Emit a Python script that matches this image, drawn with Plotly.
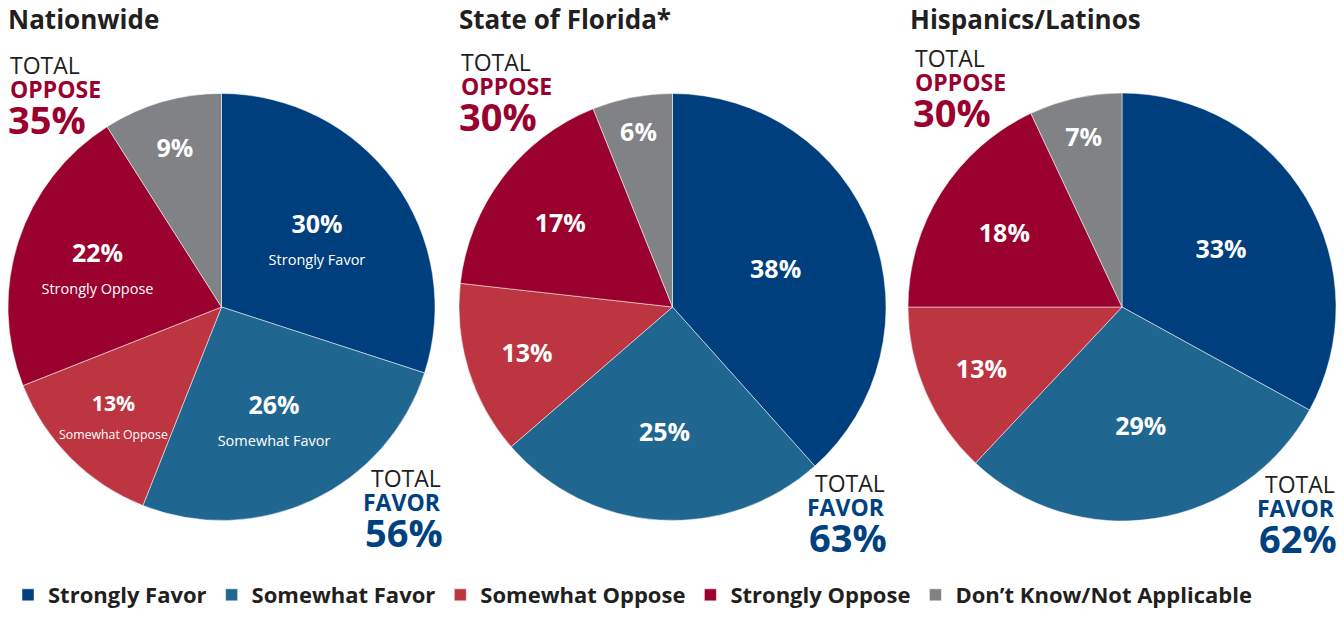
import plotly.graph_objects as go

categories = ["Strongly Favor", "Somewhat Favor", "Somewhat Oppose", "Strongly Oppose", "Don’t Know/Not Applicable"]
groups = ["Nationwide", "State of Florida*", "Hispanics/Latinos"]
nationwide = [30, 26, 13, 22, 9]
florida = [38, 25, 13, 17, 6]
hispanics = [33, 29, 13, 18, 7]
total_oppose = [35, 30, 30]
total_favor = [56, 63, 62]

colors = ["#003F7E", "#1F6791", "#BC3540", "#9B012F", "#808285"]
dark = "#231F20"
red = "#9B012F"
blue = "#00417F"
font = "Open Sans"

# inside subtitles only on the first pie
sub = ["Strongly Favor", "Somewhat Favor", "Somewhat Oppose", "Strongly Oppose", ""]

# page body has an 8px margin, so work in window pixels and shift
OFF = 8
W, H = 1328, 602


def px(x):
    return (x - OFF) / W


def py(y):
    return 1 - (y - OFF) / H


domains = [(8, 435), (459, 886), (908, 1336)]
top, bottom = 93, 521

fig = go.Figure()
for i, (vals, name) in enumerate(zip([nationwide, florida, hispanics], groups)):
    if i == 0:
        texts = [f"<b>{v}%</b>" + (f"<br><span style='font-size:14.5px'>{s}</span>" if s else "")
                 for v, s in zip(vals, sub)]
    else:
        texts = [f"<b>{v}%</b>" for v in vals]
    x0, x1 = domains[i]
    fig.add_trace(go.Pie(
        labels=categories, values=vals, text=texts,
        textinfo="text", textposition="inside", insidetextorientation="horizontal",
        textfont=dict(family=font, size=25, color="white"),
        marker=dict(colors=colors, line=dict(color="white", width=0.5)),
        sort=False, direction="clockwise", rotation=0,
        domain=dict(x=[max(px(x0), 0), min(px(x1), 1)], y=[py(bottom), py(top)]),
        showlegend=(i == 0), hoverinfo="label+percent",
    ))

    # title
    tx = [8, 459, 910][i]
    fig.add_annotation(x=px(tx - 2), y=py(19), xref="paper", yref="paper", xanchor="left",
                       yanchor="middle", showarrow=False, text=f"<b>{name}</b>",
                       font=dict(family=font, size=26, color=dark))
    # total oppose
    oy = [65, 62, 58][i]
    ox = [8, 459, 913][i]
    fig.add_annotation(x=px(ox), y=py(oy), xref="paper", yref="paper", xanchor="left",
                       yanchor="middle", showarrow=False, text="TOTAL",
                       font=dict(family=font, size=23, color=dark))
    fig.add_annotation(x=px(ox), y=py(oy + 24), xref="paper", yref="paper", xanchor="left",
                       yanchor="middle", showarrow=False, text="<b>OPPOSE</b>",
                       font=dict(family=font, size=23, color=red))
    fig.add_annotation(x=px(ox - 2), y=py(oy + 54), xref="paper", yref="paper", xanchor="left",
                       yanchor="middle", showarrow=False, text=f"<b>{total_oppose[i]}%</b>",
                       font=dict(family=font, size=38, color=red))
    # total favor
    fy = [478, 483, 484][i]
    fx = [443, 887, 1337][i]
    fig.add_annotation(x=px(fx), y=py(fy), xref="paper", yref="paper", xanchor="right",
                       yanchor="middle", showarrow=False, text="TOTAL",
                       font=dict(family=font, size=23, color=dark))
    fig.add_annotation(x=px(fx), y=py(fy + 24), xref="paper", yref="paper", xanchor="right",
                       yanchor="middle", showarrow=False, text="<b>FAVOR</b>",
                       font=dict(family=font, size=23, color=blue))
    fig.add_annotation(x=px(fx + 2), y=py(fy + 54), xref="paper", yref="paper", xanchor="right",
                       yanchor="middle", showarrow=False, text=f"<b>{total_favor[i]}%</b>",
                       font=dict(family=font, size=38, color=blue))

fig.update_layout(
    width=W, height=H,
    margin=dict(l=0, r=0, t=0, b=0, autoexpand=False),
    paper_bgcolor="white",
    legend=dict(orientation="h", x=0, xanchor="left", y=py(595), yanchor="middle",
                font=dict(family=font, size=22, color=dark, weight="bold"), itemwidth=30,
                traceorder="normal"),
)
fig.write_html("out.html")
